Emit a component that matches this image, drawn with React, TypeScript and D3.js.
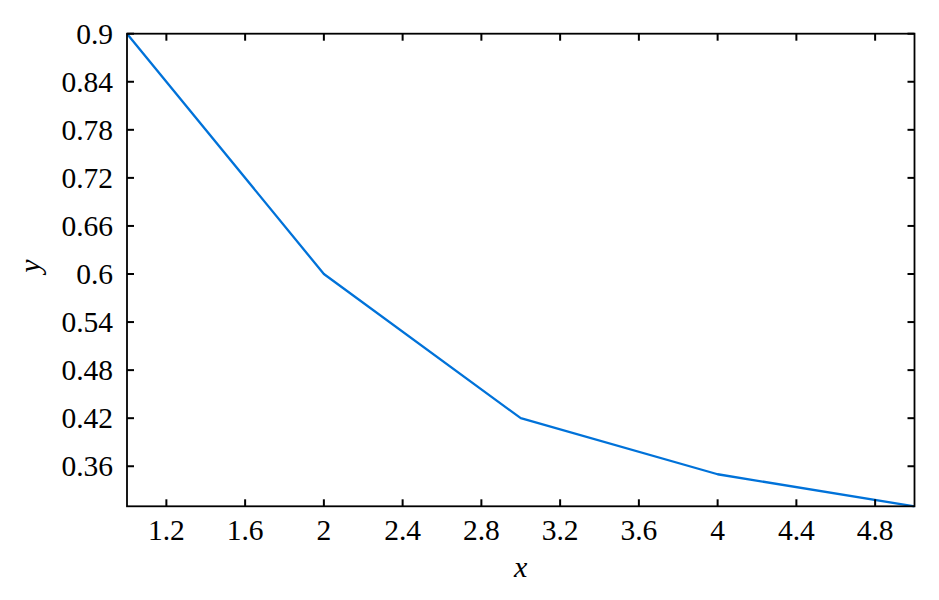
import React from "react";
import * as d3 from "d3";

const xValues = [1, 2, 3, 4, 5];
const yValues = [0.9, 0.6, 0.42, 0.35, 0.31];
const xTicks = [1.2, 1.6, 2, 2.4, 2.8, 3.2, 3.6, 4, 4.4, 4.8];
const yTicks = [0.36, 0.42, 0.48, 0.54, 0.6, 0.66, 0.72, 0.78, 0.84, 0.9];

const W = 939, H = 600;
const L = 127, R = 914.5, T = 33.7, B = 506.3;

export default function App() {
  const x = d3.scaleLinear().domain([1, 5]).range([L, R]);
  const y = d3.scaleLinear().domain([0.31, 0.9]).range([B, T]);
  const line = d3.line<number>().x((_, i) => x(xValues[i])).y((d) => y(d));
  const font = "'Liberation Serif', 'DejaVu Serif', serif";
  const tl = 7;
  const fmt = (v: number) => String(+v.toFixed(2));
  return (
    <svg width={W} height={H} style={{ position: "absolute", left: 0, top: 0 }} fontFamily={font}>
      <rect width={W} height={H} fill="white" />
      <path d={line(yValues) || ""} fill="none" stroke="#0072d9" strokeWidth={2.3} strokeLinejoin="round" />
      {xTicks.map((t) => (
        <g key={"x" + t}>
          <line x1={x(t)} x2={x(t)} y1={B} y2={B - tl} stroke="black" strokeWidth={2} />
          <line x1={x(t)} x2={x(t)} y1={T} y2={T + tl} stroke="black" strokeWidth={2} />
          <text x={x(t)} y={540} textAnchor="middle" fontSize={29.5}>{fmt(t)}</text>
        </g>
      ))}
      {yTicks.map((t) => (
        <g key={"y" + t}>
          <line x1={L} x2={L + tl} y1={y(t)} y2={y(t)} stroke="black" strokeWidth={2} />
          <line x1={R} x2={R - tl} y1={y(t)} y2={y(t)} stroke="black" strokeWidth={2} />
          <text x={113} y={y(t) + 10} textAnchor="end" fontSize={29.5}>{fmt(t)}</text>
        </g>
      ))}
      <rect x={L} y={T} width={R - L} height={B - T} fill="none" stroke="black" strokeWidth={1.8} />
      <text x={(L + R) / 2} y={577} textAnchor="middle" fontSize={30} fontStyle="italic">x</text>
      <text transform={`translate(40,${(T + B) / 2 - 4}) rotate(-90)`} textAnchor="middle" fontSize={30} fontStyle="italic">y</text>
    </svg>
  );
}
